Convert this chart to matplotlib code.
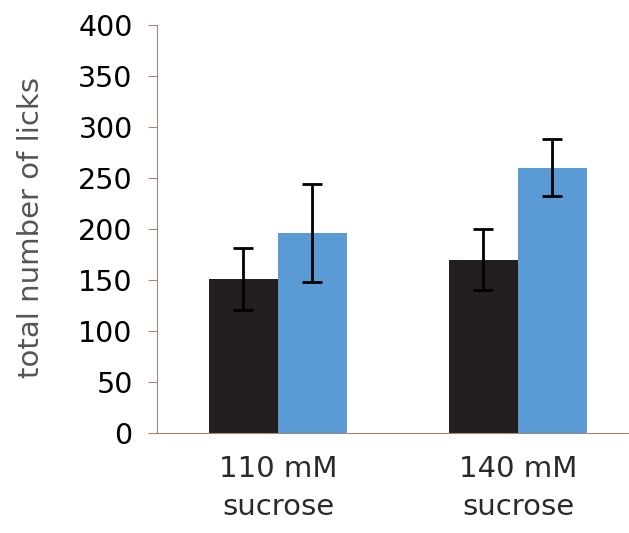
import matplotlib
matplotlib.use("Agg")
import matplotlib.pyplot as plt
import numpy as np

categories = ["110 mM\nsucrose", "140 mM\nsucrose"]
black_vals = [151, 170]
black_err = [30, 30]
blue_vals = [196, 260]
blue_err = [48, 28]
yticks = [0, 50, 100, 150, 200, 250, 300, 350, 400]

plt.rcParams['font.family'] = ['DejaVu Sans']

fig = plt.figure(figsize=(6.29, 5.33), dpi=100)
ax = fig.add_axes([157/629, 1-433/533, 1-157/629, (433-25)/533])

x = np.arange(len(categories))
w = 0.2875
ax.bar(x - w/2, black_vals, width=w, color='#231f20')
ax.bar(x + w/2, blue_vals, width=w, color='#5b9bd5')
ax.errorbar(x - w/2, black_vals, yerr=black_err, fmt='none', ecolor='black',
            elinewidth=2, capsize=7, capthick=2)
ax.errorbar(x + w/2, blue_vals, yerr=blue_err, fmt='none', ecolor='black',
            elinewidth=2, capsize=7, capthick=2)

ax.set_ylim(0, 400)
ax.set_xlim(-0.504, 1.4625)
ax.set_yticks(yticks)
ax.set_yticklabels([str(t) for t in yticks], fontsize=20.5, color='black')
ax.tick_params(axis='y', length=6.5, width=0.8, color='#a08878', pad=11)
ax.set_xticks(x)
ax.set_xticklabels(categories, fontsize=21, color='#2a2a2a', linespacing=1.45)
ax.tick_params(axis='x', length=0, pad=16)

for s in ['top', 'right']:
    ax.spines[s].set_visible(False)
ax.spines['left'].set_color('#a08878')
ax.spines['bottom'].set_color('#a08878')
ax.spines['left'].set_linewidth(0.8)
ax.spines['bottom'].set_linewidth(0.8)

ax.set_ylabel('total number of licks', fontsize=21, color='#555555')
ax.yaxis.set_label_coords(-0.238, 0.503)

fig.savefig('out.png', dpi=100)
